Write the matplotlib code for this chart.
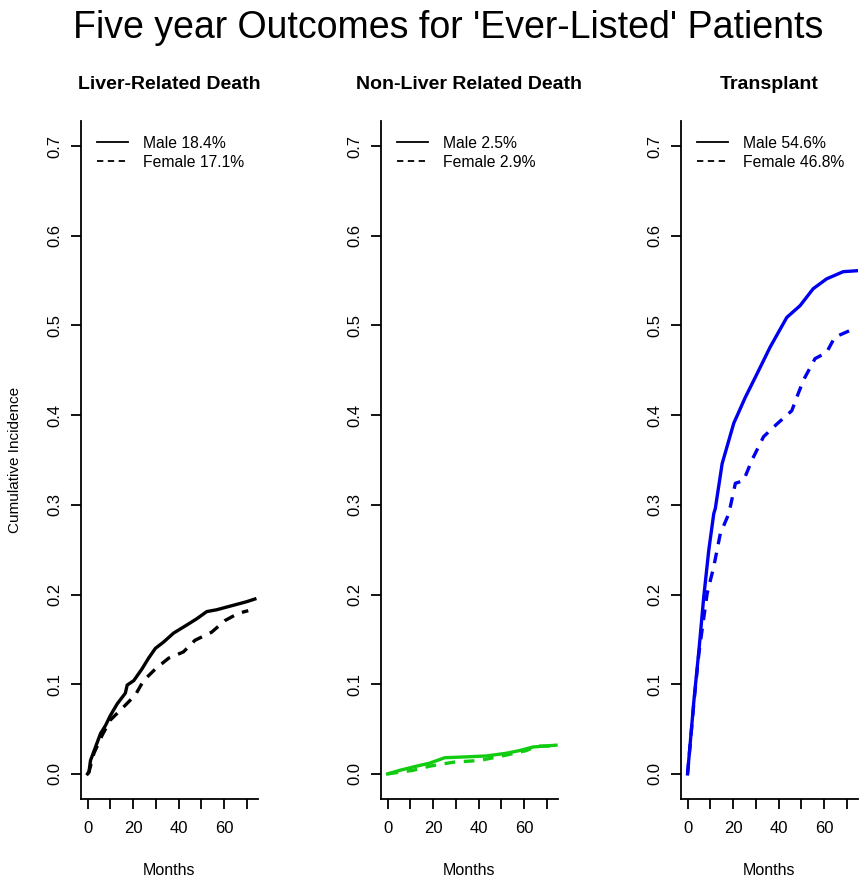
import matplotlib
matplotlib.use("Agg")
import matplotlib.pyplot as plt
from matplotlib.lines import Line2D

plt.rcParams['font.family'] = ['Liberation Sans', 'DejaVu Sans']

# ---- data ----
titles = ["Liver-Related Death", "Non-Liver Related Death", "Transplant"]
colors = ["black", "#11cc11", "#0000ee"]
male_labels = ["Male 18.4%", "Male 2.5%", "Male 54.6%"]
female_labels = ["Female 17.1%", "Female 2.9%", "Female 46.8%"]

liver_male_t = [0, 0.6, 1.3, 3.5, 5.7, 7.9, 10, 13, 16.6, 17.4, 20.3, 23.9, 26.8, 29.8, 33.4,
                37.8, 43.6, 48, 52.4, 56.7, 61.1, 65.5, 69.9, 73.5]
liver_male_v = [0, 0.002, 0.015, 0.030, 0.045, 0.054, 0.065, 0.078, 0.090, 0.099, 0.104, 0.117,
                0.129, 0.140, 0.147, 0.157, 0.166, 0.173, 0.181, 0.183, 0.186, 0.189, 0.192, 0.195]
liver_female_t = [0, 0.6, 2.8, 6.4, 10, 15.2, 21, 24.6, 29.8, 35.6, 42.1, 47.2, 54.5, 60.4, 66.2, 70.6]
liver_female_v = [0, 0.002, 0.023, 0.043, 0.060, 0.073, 0.088, 0.104, 0.117, 0.129, 0.136, 0.149,
                  0.158, 0.171, 0.179, 0.182]

nonliver_male_t = [0, 5.4, 12.7, 18.5, 25.1, 34.6, 43.4, 52.2, 58, 63.9, 74]
nonliver_male_v = [0, 0.004, 0.0086, 0.012, 0.018, 0.019, 0.020, 0.023, 0.026, 0.030, 0.032]
nonliver_female_t = [0, 11.2, 18.5, 28.8, 40.5, 52.2, 61, 65.3, 72]
nonliver_female_v = [0, 0.004, 0.0086, 0.013, 0.015, 0.021, 0.026, 0.031, 0.031]

tx_male_t = [0, 2.8, 5, 7.1, 9.3, 11.5, 12.2, 15.2, 20.3, 25.4, 30.5, 36.3, 43.6, 49.4, 55.2,
             61.1, 68.4, 74.2]
tx_male_v = [0, 0.082, 0.138, 0.197, 0.249, 0.29, 0.296, 0.346, 0.391, 0.42, 0.446, 0.476,
             0.509, 0.522, 0.541, 0.552, 0.56, 0.561]
tx_female_t = [0, 2.8, 5, 8.6, 11.5, 14.4, 18.1, 18.8, 21, 24.6, 28.3, 33.4, 39.2, 45.8, 48,
               50.9, 56, 61.1, 64.7, 72.8]
tx_female_v = [0, 0.080, 0.135, 0.201, 0.231, 0.268, 0.29, 0.298, 0.324, 0.327, 0.35, 0.376,
               0.39, 0.405, 0.42, 0.439, 0.463, 0.47, 0.487, 0.496]

male_t = [liver_male_t, nonliver_male_t, tx_male_t]
male_v = [liver_male_v, nonliver_male_v, tx_male_v]
female_t = [liver_female_t, nonliver_female_t, tx_female_t]
female_v = [liver_female_v, nonliver_female_v, tx_female_v]

yticks = [0.0, 0.1, 0.2, 0.3, 0.4, 0.5, 0.6, 0.7]
xticks = [0, 10, 20, 30, 40, 50, 60, 70]
xticklabels = ["0", "", "20", "", "40", "", "60", ""]

# ---- figure ----
W, H = 864, 880
fig = plt.figure(figsize=(W / 100, H / 100), dpi=100)
lefts = [81, 381, 681]
ax_w, ax_top, ax_bot = 177, 121, 799

for i in range(3):
    ax = fig.add_axes([lefts[i] / W, (H - ax_bot) / H, ax_w / W, (ax_bot - ax_top) / H])
    ax.plot(male_t[i], male_v[i], color=colors[i], lw=2.4, solid_joinstyle='round')
    ax.plot(female_t[i], female_v[i], color=colors[i], lw=2.4,
            linestyle=(0, (3.2, 2.6)))
    ax.set_xlim(-2.88, 74.88)
    ax.set_ylim(-0.028, 0.728)
    ax.spines['top'].set_visible(False)
    ax.spines['right'].set_visible(False)
    for s in ['left', 'bottom']:
        ax.spines[s].set_linewidth(1.3)
    ax.set_yticks(yticks)
    ax.set_yticklabels([f"{v:.1f}" for v in yticks], rotation=90, va='center')
    ax.set_xticks(xticks)
    ax.set_xticklabels(xticklabels)
    ax.tick_params(axis='both', direction='out', length=7.5, width=1.3, labelsize=12)
    ax.tick_params(axis='y', pad=6)
    ax.tick_params(axis='x', pad=8.5)
    ax.set_xlabel("Months", fontsize=11.5, labelpad=19)
    if i == 0:
        ax.set_ylabel("Cumulative Incidence", fontsize=11, labelpad=18)
    ax.set_title(titles[i], fontsize=14, fontweight='bold', pad=23)
    handles = [Line2D([], [], color='black', lw=1.3),
               Line2D([], [], color='black', lw=1.3, linestyle=(0, (3.5, 2.5)))]
    ax.legend(handles, [male_labels[i], female_labels[i]], loc='upper left',
              bbox_to_anchor=(0.09, 0.978), frameon=False, fontsize=11.3,
              handlelength=2.0, handletextpad=0.95, labelspacing=0.25, borderpad=0,
              borderaxespad=0)

fig.text(448 / W, 1 - 28 / H, "Five year Outcomes for 'Ever-Listed' Patients",
         fontsize=27, ha='center', va='center')

fig.savefig("out.png", dpi=100)
